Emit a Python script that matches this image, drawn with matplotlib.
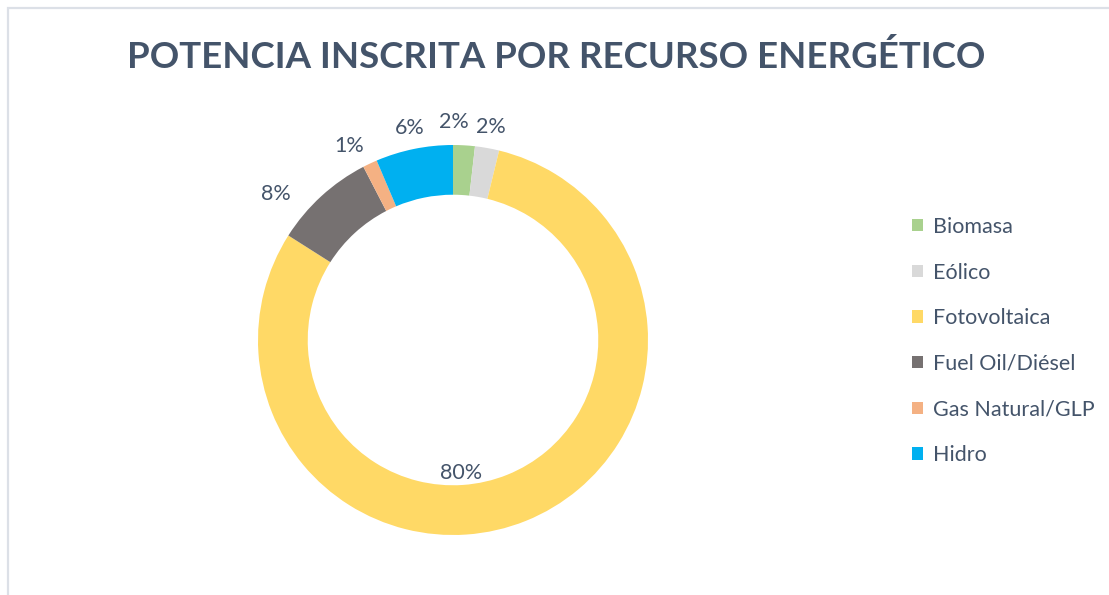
import matplotlib
matplotlib.use("Agg")
import matplotlib.pyplot as plt
from matplotlib.patches import Rectangle, Patch
import numpy as np

categories = ["Biomasa", "Eólico", "Fotovoltaica", "Fuel Oil/Diésel", "Gas Natural/GLP", "Hidro"]
values = [1.8, 2.0, 80.2, 8.4, 1.2, 6.4]
colors = ["#A9D18E", "#D9D9D9", "#FFD966", "#767171", "#F4B183", "#00B0F0"]
title = "POTENCIA INSCRITA POR RECURSO ENERGÉTICO"

TXT = "#44546A"
W, H = 1109, 595
fig = plt.figure(figsize=(W / 100, H / 100), dpi=100)
fig.patch.set_facecolor("white")

# frame (light border at top/left)
fig.add_artist(Rectangle((8 / W, -0.1), 1.2, 1 - 8 / H + 0.1, transform=fig.transFigure,
                         fill=False, edgecolor="#DCE0E7", linewidth=1.6))

cx, cy, r = 453, 340, 195
half = 1.3 * r
ax = fig.add_axes([(cx - half) / W, (H - cy - half) / H, 2 * half / W, 2 * half / H])

wedges, texts, autotexts = ax.pie(values, colors=colors, startangle=90, counterclock=False,
                                  radius=1.0, wedgeprops=dict(width=0.255, edgecolor="none"),
                                  autopct="%1.0f%%", pctdistance=1.11,
                                  textprops=dict(color=TXT, fontsize=15.5, family="Lato"))
ax.set_xlim(-1.3, 1.3)
ax.set_ylim(-1.3, 1.3)
ax.set_aspect("equal")
ax.axis("off")

# Excel-like placement of the big slice label (inside the hole, bottom)
autotexts[2].set_position((0.04, -0.68))
# fuel label sits a bit further out
w = wedges[3]
mid = np.deg2rad((w.theta1 + w.theta2) / 2 + 8)
autotexts[3].set_position((1.18 * np.cos(mid), 1.18 * np.sin(mid)))
w = wedges[0]
mid = np.deg2rad((w.theta1 + w.theta2) / 2 + 3)
autotexts[0].set_position((1.12 * np.cos(mid), 1.12 * np.sin(mid)))
w = wedges[4]
mid = np.deg2rad((w.theta1 + w.theta2) / 2 + 3)
autotexts[4].set_position((1.13 * np.cos(mid), 1.13 * np.sin(mid)))

fig.text(556 / W, 1 - 57 / H, title, ha="center", va="center", color=TXT,
         fontsize=26.4, fontweight="bold", family="Lato")

handles = [Patch(facecolor=c, edgecolor="none") for c in colors]
fig.legend(handles, categories, loc="center left", bbox_to_anchor=(893 / W, 1 - 341 / H),
           frameon=False, labelcolor=TXT, prop=dict(family="Lato", size=15.5),
           handlelength=0.5, handleheight=0.5, handletextpad=0.45, labelspacing=1.19)

fig.savefig("out.png", dpi=100, facecolor="white")
